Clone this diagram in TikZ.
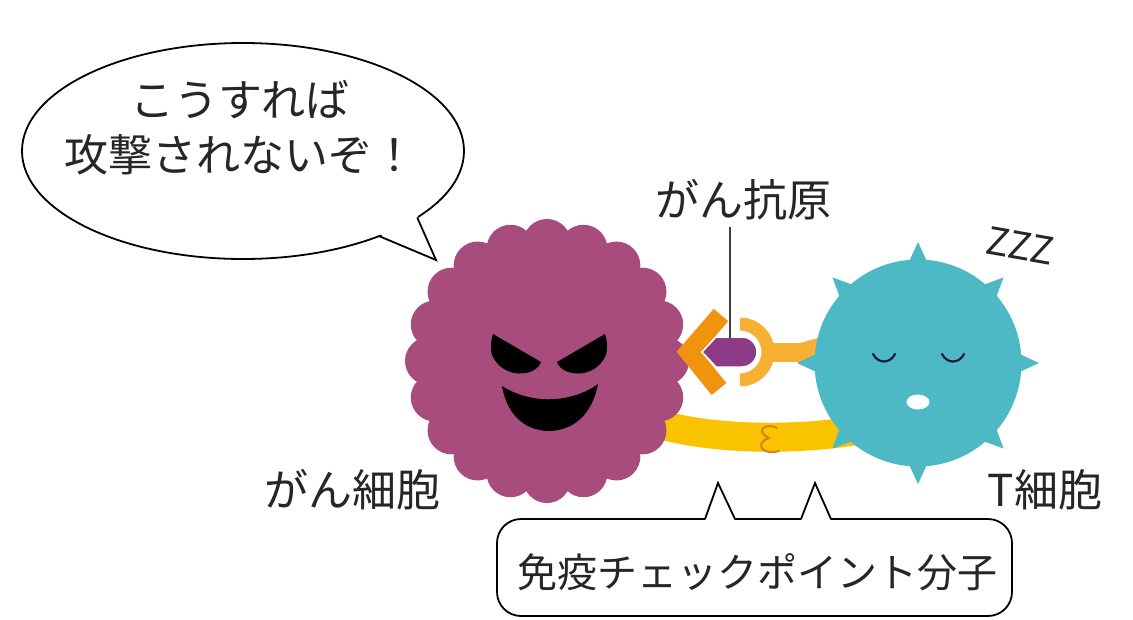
\documentclass[tikz,border=0pt]{standalone}
\usepackage{fontspec}
\newfontfamily\jp{Noto Sans CJK JP}
\definecolor{cancer}{RGB}{168,76,126}
\definecolor{tcell}{RGB}{76,185,196}
\definecolor{orangeD}{RGB}{240,148,15}
\definecolor{orangeL}{RGB}{246,177,52}
\definecolor{bandY}{RGB}{249,195,0}
\definecolor{antigen}{RGB}{142,59,135}
\definecolor{squig}{RGB}{212,132,30}
\definecolor{eyeT}{RGB}{25,30,60}
\tikzset{
  outline/.style={draw=black, line width=1.8pt},
  jptext/.style={font=\jp\fontsize{44}{55}\selectfont, text=black!85, inner sep=0pt},
  smalljp/.style={font=\jp\fontsize{40}{48}\selectfont, text=black!85, inner sep=0pt},
}
\begin{document}
\begin{tikzpicture}[x=1pt, y=-1pt]
\useasboundingbox (0,0) rectangle (1133,619);

% speech bubble with its tail
\draw[outline, fill=white] (243,151) ellipse [x radius=221pt, y radius=108pt];
\fill[white] (417.2,215.5) -- (436,260) -- (379.1,234.1) -- cycle;
\draw[outline, line join=miter] (417.2,217.5) -- (436,260) -- (379.1,236.1);
\node[jptext, align=center] (say) at (240,128) {こうすれば\\攻撃されないぞ！};

% yellow checkpoint band between the cells
\draw[bandY, line width=29pt] (655,423) .. controls (710,440) and (800,442) .. (870,428);
\draw[squig, line width=2pt, line cap=round] (777,428) .. controls (766,422) and (754,431) .. (769,438) .. controls (754,443) and (762,456) .. (779,451);

% receptor stem (behind the T cell)
\fill[orangeL] (765,343) rectangle (835,362);
\fill[orangeL] (800,343) -- (825,336) -- (825,369) -- (800,362) -- cycle;

% cancer cell
\begin{scope}[shift={(547,361)}]
  \fill[cancer] (0,0) circle (120pt);
  \foreach \a in {0,18,...,342} \fill[cancer] (\a:118) circle (24pt);
  \node[inner sep=0pt] (cancer) at (0,0) {};
\end{scope}
% evil face
\fill[black] (493,334) -- (541,362) .. controls (536,377) and (503,380) .. (492,355) .. controls (490,347) and (491,340) .. cycle;
\fill[black] (605,334) -- (557,362) .. controls (562,377) and (595,380) .. (606,355) .. controls (608,347) and (607,340) .. cycle;
\fill[black] (502,386) .. controls (530,404) and (570,404) .. (598,384) .. controls (590,425) and (562,431) .. (549,431) .. controls (530,431) and (508,420) .. cycle;

% T cell
\begin{scope}[shift={(918,363)}]
  \fill[tcell] (0,0) circle (103.5pt);
  \foreach \a in {0,45,...,315}
    \fill[tcell, rotate=\a] (95,-12) -- (121,0) -- (95,12) -- cycle;
  \node[inner sep=0pt] (tcellc) at (0,0) {};
\end{scope}
% sleeping face
\draw[eyeT, line width=2.2pt, line cap=round] (873,354) .. controls (878,364) and (890,364) .. (895,354);
\draw[eyeT, line width=2.2pt, line cap=round] (942,354) .. controls (947,364) and (959,364) .. (964,354);
\fill[white] (918,402) ellipse [x radius=11.5pt, y radius=7.5pt];

% ligand on the cancer cell
\draw[orangeD, line width=19pt, line join=miter] (721,315) -- (689,352) -- (719,389);
% receptor cup on the T cell
\draw[orangeL, line width=13pt] (740,324) arc[start angle=90, end angle=-90, radius=28pt];
% antigen
\fill[antigen, draw=white, line width=1.5pt] (702,352) -- (716,337) -- (742,337) arc[start angle=90, end angle=-90, radius=15pt] -- (716,367) -- cycle;
\coordinate (agtop) at (730,338);

% labels
\node[jptext] (aglbl) at (743,200) {がん抗原};
\draw[black!75, line width=2pt] (agtop |- aglbl.south) ++(0,6) -- (agtop);
\node[jptext, font=\fontspec{Noto Sans CJK JP}\fontsize{38}{40}\selectfont, rotate=-10] (zzz) at (1020,246) {ZZZ};
\node[jptext] (clbl) at (352,490) {がん細胞};
\node[jptext] (tlbl) at (1045,490) {T細胞};

% checkpoint label box with two pointers
\node[outline, rounded corners=24pt, minimum width=515pt, minimum height=97pt, inner sep=0pt, fill=white] (chk) at (754.5,567.5) {};
\node[smalljp] (chktext) at (757,572) {免疫チェックポイント分子};
\fill[white] (705,521) -- (718,483) -- (735,521) -- cycle;
\fill[white] (801,521) -- (815,483) -- (831,521) -- cycle;
\draw[outline, line join=miter] (705,519) -- (718,483) -- (735,519);
\draw[outline, line join=miter] (801,519) -- (815,483) -- (831,519);
\end{tikzpicture}
\end{document}
